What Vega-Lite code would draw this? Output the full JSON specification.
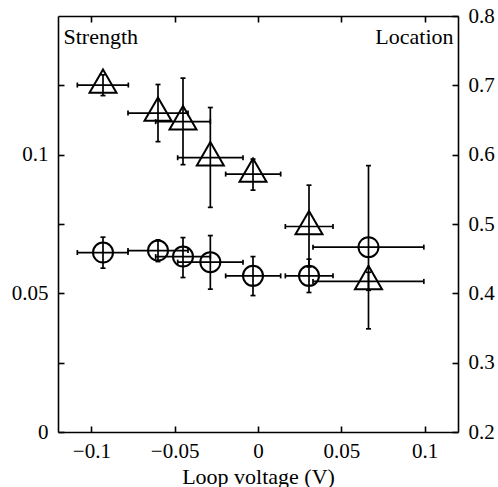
{
  "$schema": "https://vega.github.io/schema/vega-lite/v6.json",
  "width": 400,
  "height": 416,
  "autosize": {"type": "none"},
  "padding": {"left": 58, "top": 16, "right": 40, "bottom": 55},
  "background": "white",
  "config": {
    "font": "Liberation Serif",
    "view": {"stroke": null},
    "axis": {
      "grid": false,
      "domainColor": "black",
      "domainWidth": 1.6,
      "tickColor": "black",
      "tickWidth": 1.6,
      "tickSize": -6,
      "labelFont": "Liberation Serif",
      "labelColor": "black",
      "labelFontSize": 21,
      "labelFlush": false,
      "labelOverlap": false,
      "titleFont": "Liberation Serif",
      "titleColor": "black",
      "titleFontSize": 22,
      "titleFontWeight": "normal"
    }
  },
  "data": {
    "values": [
      {"series": "Strength", "x": -0.093, "xlo": -0.1084, "xhi": -0.0778, "y": 0.1251, "ylo": 0.1213, "yhi": 0.1288},
      {"series": "Strength", "x": -0.060, "xlo": -0.078, "xhi": -0.042, "y": 0.1150, "ylo": 0.1047, "yhi": 0.1253},
      {"series": "Strength", "x": -0.045, "xlo": -0.0614, "xhi": -0.0286, "y": 0.1119, "ylo": 0.0964, "yhi": 0.1276},
      {"series": "Strength", "x": -0.0286, "xlo": -0.0482, "xhi": -0.009, "y": 0.0989, "ylo": 0.0810, "yhi": 0.1170},
      {"series": "Strength", "x": -0.003, "xlo": -0.0194, "xhi": 0.0136, "y": 0.0930, "ylo": 0.0872, "yhi": 0.0984},
      {"series": "Strength", "x": 0.0306, "xlo": 0.0164, "xhi": 0.045, "y": 0.0741, "ylo": 0.0595, "yhi": 0.0890},
      {"series": "Strength", "x": 0.0663, "xlo": 0.033, "xhi": 0.0995, "y": 0.0543, "ylo": 0.0511, "yhi": 0.0576},
      {"series": "Location", "x": -0.093, "xlo": -0.1084, "xhi": -0.078, "y": 0.4588, "ylo": 0.4363, "yhi": 0.481},
      {"series": "Location", "x": -0.060, "xlo": -0.078, "xhi": -0.042, "y": 0.4617, "ylo": 0.4458, "yhi": 0.4771},
      {"series": "Location", "x": -0.045, "xlo": -0.0614, "xhi": -0.0286, "y": 0.4530, "ylo": 0.4228, "yhi": 0.4804},
      {"series": "Location", "x": -0.0286, "xlo": -0.0482, "xhi": -0.009, "y": 0.445, "ylo": 0.406, "yhi": 0.4833},
      {"series": "Location", "x": -0.003, "xlo": -0.0194, "xhi": 0.0136, "y": 0.4252, "ylo": 0.3968, "yhi": 0.453},
      {"series": "Location", "x": 0.0306, "xlo": 0.0164, "xhi": 0.045, "y": 0.4252, "ylo": 0.4012, "yhi": 0.4493},
      {"series": "Location", "x": 0.0663, "xlo": 0.033, "xhi": 0.0995, "y": 0.4666, "ylo": 0.3488, "yhi": 0.5842}
    ]
  },
  "layer": [
    {
      "transform": [{"filter": "datum.series === 'Strength'"}],
      "encoding": {
        "x": {
          "field": "x", "type": "quantitative",
          "scale": {"domain": [-0.12, 0.12], "nice": false, "zero": false},
          "axis": {
            "orient": "bottom", "values": [-0.1, -0.05, 0, 0.05, 0.1], "format": "~g",
            "labelPadding": 14, "title": "Loop voltage (V)", "titleBaseline": "alphabetic", "titleY": 51
          }
        },
        "y": {
          "field": "y", "type": "quantitative",
          "scale": {"domain": [0, 0.15], "nice": false, "zero": false},
          "axis": {
            "orient": "left", "values": [0, 0.025, 0.05, 0.075, 0.1, 0.125], "format": "~g",
            "labelExpr": "round(datum.value*1000) % 50 === 0 ? datum.label : ''",
            "labelPadding": 16,
            "title": "Strength", "titleAngle": 0, "titleAlign": "left", "titleBaseline": "alphabetic",
            "titleX": 5, "titleY": 27
          }
        }
      },
      "layer": [
        {"mark": {"type": "rule", "color": "black", "strokeWidth": 1.7},
         "encoding": {"x": {"field": "xlo", "type": "quantitative"}, "x2": {"field": "xhi"}}},
        {"mark": {"type": "rule", "color": "black", "strokeWidth": 1.7},
         "encoding": {"y": {"field": "ylo", "type": "quantitative"}, "y2": {"field": "yhi"}}},
        {"transform": [{"fold": ["xlo", "xhi"], "as": ["k", "xv"]}],
         "mark": {"type": "tick", "orient": "vertical", "color": "black", "size": 5, "thickness": 1.7, "opacity": 1},
         "encoding": {"x": {"field": "xv", "type": "quantitative"}}},
        {"transform": [{"fold": ["ylo", "yhi"], "as": ["k", "yv"]}],
         "mark": {"type": "tick", "orient": "horizontal", "color": "black", "size": 5, "thickness": 1.7, "opacity": 1},
         "encoding": {"y": {"field": "yv", "type": "quantitative"}}},
        {"mark": {"type": "point", "shape": "M0,-1.155L1,0.577L-1,0.577Z", "size": 729, "filled": false, "stroke": "black", "strokeWidth": 2, "opacity": 1}}
      ]
    },
    {
      "transform": [{"filter": "datum.series === 'Location'"}],
      "encoding": {
        "x": {
          "field": "x", "type": "quantitative",
          "scale": {"domain": [-0.12, 0.12], "nice": false, "zero": false},
          "axis": {"orient": "top", "values": [-0.1, -0.05, 0, 0.05, 0.1], "labels": false, "title": null}
        },
        "y": {
          "field": "y", "type": "quantitative",
          "scale": {"domain": [0.2, 0.8], "nice": false, "zero": false},
          "axis": {
            "orient": "right", "values": [0.2, 0.3, 0.4, 0.5, 0.6, 0.7, 0.8], "format": "~g",
            "labelPadding": 16,
            "title": "Location", "titleAngle": 0, "titleAlign": "right", "titleBaseline": "alphabetic",
            "titleX": -5, "titleY": 27
          }
        }
      },
      "layer": [
        {"mark": {"type": "rule", "color": "black", "strokeWidth": 1.7},
         "encoding": {"x": {"field": "xlo", "type": "quantitative"}, "x2": {"field": "xhi"}}},
        {"mark": {"type": "rule", "color": "black", "strokeWidth": 1.7},
         "encoding": {"y": {"field": "ylo", "type": "quantitative"}, "y2": {"field": "yhi"}}},
        {"transform": [{"fold": ["xlo", "xhi"], "as": ["k", "xv"]}],
         "mark": {"type": "tick", "orient": "vertical", "color": "black", "size": 5, "thickness": 1.7, "opacity": 1},
         "encoding": {"x": {"field": "xv", "type": "quantitative"}}},
        {"transform": [{"fold": ["ylo", "yhi"], "as": ["k", "yv"]}],
         "mark": {"type": "tick", "orient": "horizontal", "color": "black", "size": 5, "thickness": 1.7, "opacity": 1},
         "encoding": {"y": {"field": "yv", "type": "quantitative"}}},
        {"mark": {"type": "point", "shape": "circle", "size": 400, "filled": false, "stroke": "black", "strokeWidth": 2, "opacity": 1}}
      ]
    }
  ],
  "resolve": {"scale": {"y": "independent"}, "axis": {"x": "independent"}}
}
